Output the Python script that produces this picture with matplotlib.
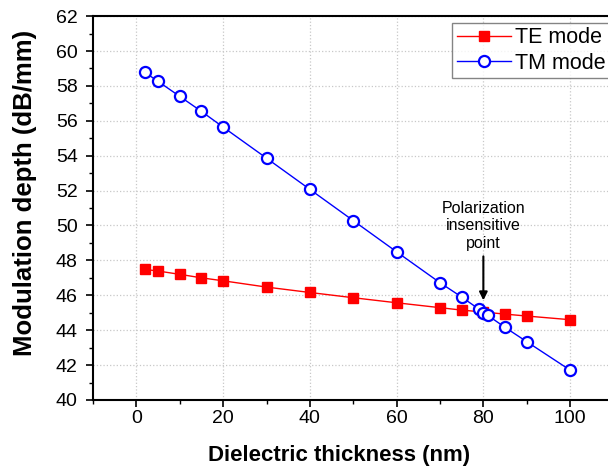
import matplotlib.pyplot as plt
from matplotlib.ticker import MultipleLocator

plt.rcParams['font.family'] = ['Liberation Sans', 'DejaVu Sans']

te_x = [2, 5, 10, 15, 20, 30, 40, 50, 60, 70, 75, 80, 85, 90, 100]
te_y = [47.48, 47.39, 47.2, 47.0, 46.83, 46.47, 46.16, 45.86, 45.57, 45.29, 45.15, 45.04, 44.92, 44.81, 44.6]

tm_x = [2, 5, 10, 15, 20, 30, 40, 50, 60, 70, 75, 79, 80, 81, 85, 90, 100]
tm_y = [58.77, 58.26, 57.4, 56.54, 55.64, 53.86, 52.07, 50.28, 48.49, 46.72, 45.9, 45.2, 45.0, 44.85, 44.16, 43.34, 41.71]

fig = plt.figure(figsize=(6.08, 4.75), dpi=100)
ax = fig.add_axes([0.153, 0.158, 0.856, 0.808])

ax.plot(te_x, te_y, color='#ff0000', lw=1.0, marker='s', markersize=7.5,
        markerfacecolor='#ff0000', markeredgecolor='#ff0000', label='TE mode')
ax.plot(tm_x, tm_y, color='#0000ff', lw=1.0, marker='o', markersize=8,
        markerfacecolor='white', markeredgecolor='#0000ff', markeredgewidth=1.6,
        label='TM mode')

ax.set_xlim(-10, 110)
ax.set_ylim(40, 62)
ax.xaxis.set_major_locator(MultipleLocator(20))
ax.xaxis.set_minor_locator(MultipleLocator(10))
ax.yaxis.set_major_locator(MultipleLocator(2))
ax.yaxis.set_minor_locator(MultipleLocator(1))
ax.tick_params(which='major', direction='out', length=5, width=1.2, labelsize=14)
ax.tick_params(which='minor', direction='out', length=3, width=1.0)
ax.tick_params(axis='x', which='major', pad=2)
ax.tick_params(axis='y', which='major', pad=6)
ax.grid(True, which='major', linestyle=':', color='#c8c8c8', linewidth=0.9)

for s in ['left', 'bottom', 'top']:
    ax.spines[s].set_linewidth(1.5)
ax.spines['right'].set_visible(False)

ax.set_xlabel('Dielectric thickness (nm)', fontsize=16, fontweight='bold')
ax.xaxis.set_label_coords(0.472, -0.118)
ax.set_ylabel('Modulation depth (dB/mm)', fontsize=18.5, fontweight='bold')
ax.yaxis.set_label_coords(-0.108, 0.54)

ax.annotate('Polarization\ninsensitive\npoint', xy=(80, 45.55), xytext=(80, 48.55),
            ha='center', va='bottom', fontsize=11.5,
            arrowprops=dict(arrowstyle='-|>', color='black', lw=1.5, mutation_scale=12))

leg = ax.legend(loc='upper right', bbox_to_anchor=(0.993, 0.982), fontsize=15.5,
                frameon=True, fancybox=False, edgecolor='#666666',
                handlelength=2.5, borderpad=0.2, labelspacing=0.2, handletextpad=0.2,
                borderaxespad=0)
leg.get_frame().set_linewidth(1.0)

plt.savefig('out.png', dpi=100)
